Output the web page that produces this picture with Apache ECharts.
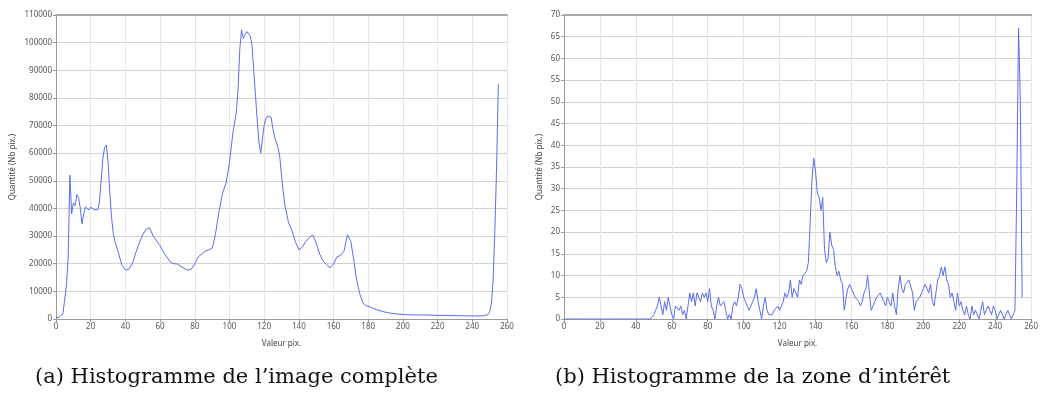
<!DOCTYPE html>
<html>
<head>
<meta charset="utf-8">
<script src="https://cdn.jsdelivr.net/npm/echarts@6/dist/echarts.min.js"></script>
<style>
html,body{margin:0;padding:0;background:#fff;}
#chart{width:1041px;height:394px;}
</style>
</head>
<body>
<div id="chart"></div>
<script>
// Left chart: full-image histogram
const leftX = [0,1,2,3,4,5,6,7,8,9,10,11,12,13,14,15,16,17,18,19,20,21,22,23,24,25,26,27,28,29,30,31,32,33,34,36,38,40,42,44,46,48,50,52,54,56,58,60,63,66,68,70,72,74,76,78,80,82,84,86,88,90,91,92,93,94,96,98,100,102,104,105,106,107,108,109,110,111,112,113,114,115,116,117,118,119,120,121,122,123,124,125,126,128,129,130,131,132,134,136,138,140,142,144,146,148,150,152,154,156,158,159,160,162,164,166,168,169,170,172,173,175,177,179,181,185,189,193,197,201,205,209,212,213,214,219,225,231,237,244,247,249,250,251,252,253,254,255];
const leftY = [500,500,600,900,2000,7000,12000,22000,52000,38000,42000,41000,45000,44000,40000,34500,38000,40500,41200,39500,40500,40800,39500,40000,39500,42000,50000,58000,62000,63000,57000,46000,37000,31000,28000,24000,19500,17800,18000,20000,24000,27500,30500,32500,33000,30000,28300,26500,23200,20500,20000,19900,19000,18300,17700,18000,20000,22500,23500,24500,25000,25600,28000,31000,35000,39000,45500,49100,56500,67500,75000,84000,98000,104600,101500,103000,104000,104500,102500,99000,90000,81000,72000,64000,60000,65000,70000,72500,73500,74000,73000,69000,66000,62000,58700,52000,46000,41000,35000,32000,28000,25000,26000,28000,29500,30400,27500,23500,21000,19600,18500,18300,20000,22500,23000,24500,30500,31000,28000,20000,15300,9300,5700,4800,4400,3300,2600,2100,1800,1600,1500,1450,1500,1800,1450,1330,1250,1200,1150,1100,1200,1600,2500,5700,14000,32000,55000,85000];

// Right chart: region-of-interest histogram
const rightX = [];
for (let i = 0; i <= 255; i++) rightX.push(i);
const rightY = [
  0,0,0,0,0,0,0,0,0,0, 0,0,0,0,0,0,0,0,0,0,
  0,0,0,0,0,0,0,0,0,0, 0,0,0,0,0,0,0,0,0,0,
  0,0,0,0,0,0,0,0,0,0,
  1,2,3,5,3,1,4,2,5,3,          // 50-59
  1,0,3,3,2,3,1,2,0,3,          // 60-69
  6,4,6,3,6,5,4,6,5,6,          // 70-79
  4,7,3,2,0,3,5,3,3,4,          // 80-89
  2,0,1,0,3,4,3,5,8,7,          // 90-99
  5,5,3,2,3,4,5,7,4,2,          // 100-109
  0,3,5,2,1,1,1,2,2,3,          // 110-119
  2,3,4,6,5,6,9,5,7,6,          // 120-129
  5,9,8,10,10,11,13,22,32,37,   // 130-139
  34,29,28,25,28,16,13,14,20,17,// 140-149
  16,12,10,11,9,8,2,5,7,8,      // 150-159
  7,6,5,5,4,3,4,6,7,10,         // 160-169
  6,2,3,4,5,5,6,6,4,3,          // 170-179
  5,4,3,6,3,1,7,10,7,6,         // 180-189
  8,8,9,9,6,2,4,4,5,5,          // 190-199
  7,8,7,6,8,4,3,6,9,10,         // 200-209
  12,10,12,9,8,5,6,4,2,6,       // 210-219
  3,4,2,1,3,1,0,3,1,2,          // 220-229
  2,0,2,4,1,2,3,2,1,3,          // 230-239
  2,0,1,2,1,0,1,2,1,0,          // 240-249
  1,2,30,67,50,5                // 250-255
];

const xTicks = { min: 0, max: 260, interval: 20 };
const captionA = '(a) Histogramme de l\u2019image compl\u00e8te';
const captionB = '(b) Histogramme de la zone d\u2019int\u00e9r\u00eat';
const yName = 'Quantit\u00e9 (Nb pix.)';
const xName = 'Valeur pix.';

const lineColor = '#5a6df0';
const labelStyle = { fontSize: 8, color: '#555', fontFamily: 'Noto Sans' };

function xAxisCfg(gi) {
  return {
    type: 'value', gridIndex: gi, min: xTicks.min, max: xTicks.max, interval: xTicks.interval,
    axisLine: { show: true, lineStyle: { color: '#9a9a9a', width: 1 } },
    axisTick: { show: true, length: 3, lineStyle: { color: '#9a9a9a' } },
    axisLabel: Object.assign({ margin: 4, formatter: v => String(v) }, labelStyle),
    splitLine: { show: true, lineStyle: { color: '#e6e6e6', width: 1 } },
    name: xName, nameLocation: 'middle', nameGap: 21,
    nameTextStyle: { fontSize: 8, color: '#444', fontFamily: 'Noto Sans' }
  };
}
function topAxisCfg(gi) {
  return {
    type: 'value', gridIndex: gi, position: 'top', min: xTicks.min, max: xTicks.max,
    axisLine: { show: true, lineStyle: { color: '#a8a8a8', width: 2 } },
    axisTick: { show: false }, axisLabel: { show: false }, splitLine: { show: false }
  };
}
function yAxisCfg(gi, max, interval, gap) {
  return {
    type: 'value', gridIndex: gi, min: 0, max: max, interval: interval,
    axisLine: { show: true, lineStyle: { color: '#9a9a9a', width: 1 } },
    axisTick: { show: true, length: 3, lineStyle: { color: '#9a9a9a' } },
    axisLabel: Object.assign({ margin: 4, formatter: v => String(v) }, labelStyle),
    splitLine: { show: true, lineStyle: { color: '#d2d2d2', width: 1 } },
    name: yName, nameLocation: 'middle', nameGap: gap,
    nameTextStyle: { fontSize: 8, color: '#444', fontFamily: 'Noto Sans' }
  };
}

const chart = echarts.init(document.getElementById('chart'), null, { renderer: 'canvas' });
chart.setOption({
  backgroundColor: '#fff',
  animation: false,
  grid: [
    { left: 56, top: 15, width: 451, height: 304 },
    { left: 564, top: 15, width: 468, height: 304 }
  ],
  xAxis: [xAxisCfg(0), xAxisCfg(1), topAxisCfg(0), topAxisCfg(1)],
  yAxis: [yAxisCfg(0, 110000, 10000, 39), yAxisCfg(1, 70, 5, 20)],
  series: [
    {
      type: 'line', xAxisIndex: 0, yAxisIndex: 0, showSymbol: false, smooth: false,
      lineStyle: { color: lineColor, width: 1 },
      data: leftX.map((x, i) => [x, leftY[i]])
    },
    {
      type: 'line', xAxisIndex: 1, yAxisIndex: 1, showSymbol: false, smooth: false,
      lineStyle: { color: lineColor, width: 1 },
      data: rightX.map((x, i) => [x, rightY[i]])
    }
  ],
  graphic: [
    { type: 'text', left: 35, top: 367,
      style: { text: captionA, font: '21px "DejaVu Serif"', fill: '#111' } },
    { type: 'text', left: 555, top: 367,
      style: { text: captionB, font: '21px "DejaVu Serif"', fill: '#111' } }
  ]
});
</script>
</body>
</html>
